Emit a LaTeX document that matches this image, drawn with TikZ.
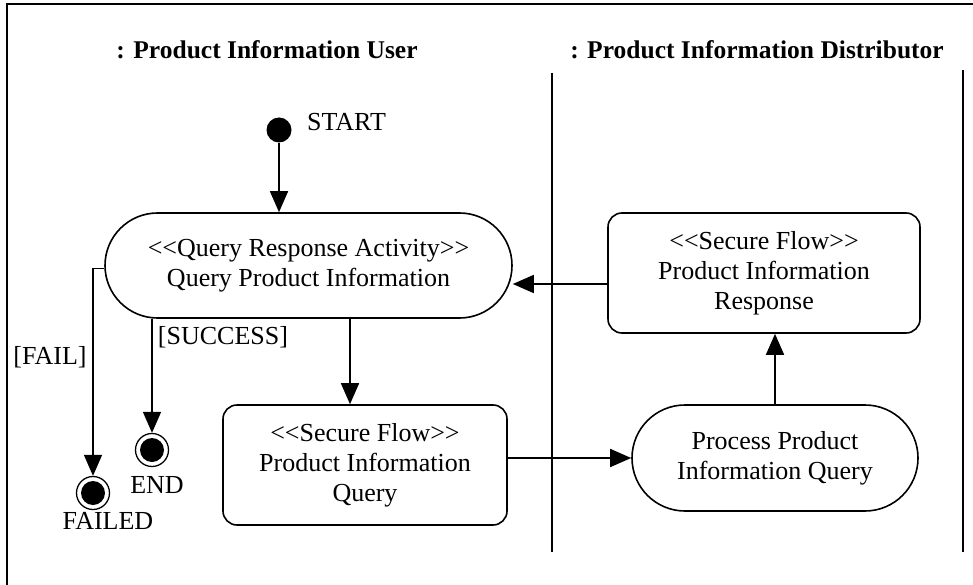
\documentclass[tikz,border=0pt]{standalone}
\usepackage{fontspec}
\setmainfont{Liberation Serif}
\usetikzlibrary{shapes.misc,arrows.meta}
\newcommand{\stereo}[1]{<\kern0pt<#1>\kern0pt>}
\begin{document}
\begin{tikzpicture}[x=1pt,y=-1pt,
  every node/.style={font=\fontsize{26}{30}\selectfont, inner sep=0pt},
  ln/.style={line width=1.6pt},
  arr/.style={ln,-{Triangle[length=21pt,width=18pt]}},
  actv/.style={ln,draw,rounded rectangle,align=center},
  flowbox/.style={ln,draw,rectangle,rounded corners=14pt,align=center},
  startdot/.style={circle,fill=black,minimum size=25pt},
  enddot/.style={line width=1.3pt,draw,circle,minimum size=33pt,path picture={\fill (path picture bounding box.center) circle (12pt);}},
  hdr/.style={font=\fontsize{25.5}{30}\selectfont\bfseries}
]
\useasboundingbox (0,0) rectangle (973,585);
% frame
\draw[ln] (7,585) -- (7,4) -- (973,4);
% lanes
\node[hdr] (h1) at (267,50) {: Product Information User};
\node[hdr] (h2) at (757,50) {: Product Information Distributor};
\draw[ln] (552,73) -- (552,552);
\draw[ln] (963,70) -- (963,552);
% nodes
\node[startdot] (start) at (279,130) {};
\node[anchor=west] (startl) at (307,122) {START};
\node[actv,minimum width=407pt,minimum height=105pt] (qpi) at (308.5,265.5) {\stereo{Query Response Activity}\\Query Product Information};
\node[actv,minimum width=286pt,minimum height=106pt] (proc) at (775,458) {Process Product\\Information Query};
\node[flowbox,minimum width=312pt,minimum height=120pt] (resp) at (764,273) {\stereo{Secure Flow}\\Product Information\\Response};
\node[flowbox,minimum width=284pt,minimum height=120pt] (query) at (365,465) {\stereo{Secure Flow}\\Product Information\\Query};
\node[enddot] (endn) at (152,450) {};
\node[enddot] (failn) at (93,493) {};
\node (endl) at (157,485) {END};
\node (faill) at (108,521) {FAILED};
\node (succl) at (223,337) {[SUCCESS]};
\node (faillbl) at (50,357) {[FAIL]};
% connectors
\draw[arr] (start.south) -- (start.south |- qpi.north);
\draw[arr] ([yshift=-11pt]resp.west) -- ([yshift=-11pt]resp.west -| qpi.east);
\draw[arr] ([xshift=-15pt]query.north |- qpi.south) -- ([xshift=-15pt]query.north);
\draw[arr] (query.east |- proc.west) -- (proc.west);
\draw[arr] (proc.north) -- (proc.north |- resp.south);
\draw[arr] (endn.north |- qpi.south) -- (endn.north);
\draw[arr] ([yshift=-3pt]qpi.west) -- ([yshift=-3pt]qpi.west -| failn.north) -- (failn.north);
\end{tikzpicture}
\end{document}
